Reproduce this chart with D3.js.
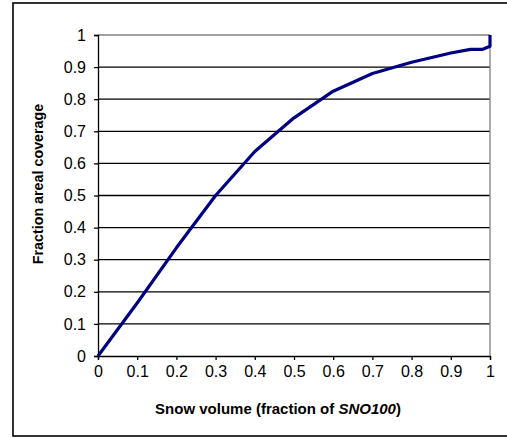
<!DOCTYPE html>
<html><head><meta charset="utf-8">
<script src="https://cdn.jsdelivr.net/npm/d3@7"></script>
<style>body{margin:0;background:#fff}svg{display:block}text{font-family:"Liberation Sans",Arial,sans-serif}</style>
</head><body><svg id="c" width="507" height="438"></svg>
<script>
const xValues = [0, 0.1, 0.2, 0.3, 0.4, 0.5, 0.6, 0.7, 0.8, 0.9, 0.95, 0.98, 1.0, 1.0];
const yValues = [0, 0.165, 0.337, 0.5, 0.637, 0.742, 0.825, 0.88, 0.915, 0.944, 0.955, 0.955, 0.965, 1.0];
const xTicks = [0,0.1,0.2,0.3,0.4,0.5,0.6,0.7,0.8,0.9,1];
const yTicks = [0,0.1,0.2,0.3,0.4,0.5,0.6,0.7,0.8,0.9,1];

const svg = d3.select("#c");
const L = 98, R = 490, T = 35, B = 356;
const x = d3.scaleLinear().domain([0,1]).range([L,R]);
const y = d3.scaleLinear().domain([0,1]).range([B,T]);

// outer frame
svg.append("rect").attr("x",13).attr("y",3).attr("width",520).attr("height",433)
  .attr("fill","none").attr("stroke","#000").attr("stroke-width",1.6);

// gridlines
svg.append("g").selectAll("line").data(yTicks.filter(d=>d>0 && d<1)).join("line")
  .attr("x1",L).attr("x2",R).attr("y1",d=>y(d)).attr("y2",d=>y(d))
  .attr("stroke","#000").attr("stroke-width",1.3);
// top and right plot border (gray)
svg.append("line").attr("x1",L).attr("x2",R).attr("y1",y(1)).attr("y2",y(1)).attr("stroke","#808080").attr("stroke-width",1.3);
svg.append("line").attr("x1",R).attr("x2",R).attr("y1",T).attr("y2",B).attr("stroke","#808080").attr("stroke-width",1.3);

// axes
const yAxis = svg.append("g").attr("transform",`translate(${L},0)`)
  .call(d3.axisLeft(y).tickValues(yTicks).tickSize(4).tickPadding(8).tickFormat(d3.format("~g")));
const xAxis = svg.append("g").attr("transform",`translate(0,${B})`)
  .call(d3.axisBottom(x).tickValues(xTicks).tickSize(4).tickPadding(6).tickFormat(d3.format("~g")));
[yAxis,xAxis].forEach(a=>{
  a.attr("font-size",16);
  a.select(".domain").attr("stroke","#000").attr("stroke-width",1.3);
  a.selectAll(".tick line").attr("stroke","#000").attr("stroke-width",1.3);
  a.selectAll("text").attr("font-size",16).attr("fill","#000").style("font-family","'Liberation Sans',Arial,sans-serif");
});

// line
const pts = xValues.map((v,i)=>[v,yValues[i]]);
svg.append("path").datum(pts)
  .attr("fill","none").attr("stroke","#000080").attr("stroke-width",3.2).attr("stroke-linejoin","round")
  .attr("d", d3.line().x(d=>x(d[0])).y(d=>y(d[1])));

// titles
svg.append("text").attr("transform","translate(43,184) rotate(-90)").attr("text-anchor","middle")
  .attr("font-size",14.3).attr("font-weight","bold").text("Fraction areal coverage");
const xt = svg.append("text").attr("x",278).attr("y",414).attr("text-anchor","middle")
  .attr("font-size",15).attr("font-weight","bold");
xt.append("tspan").text("Snow volume (fraction of ");
xt.append("tspan").attr("font-style","italic").text("SNO100");
xt.append("tspan").text(")");
</script></body></html>
